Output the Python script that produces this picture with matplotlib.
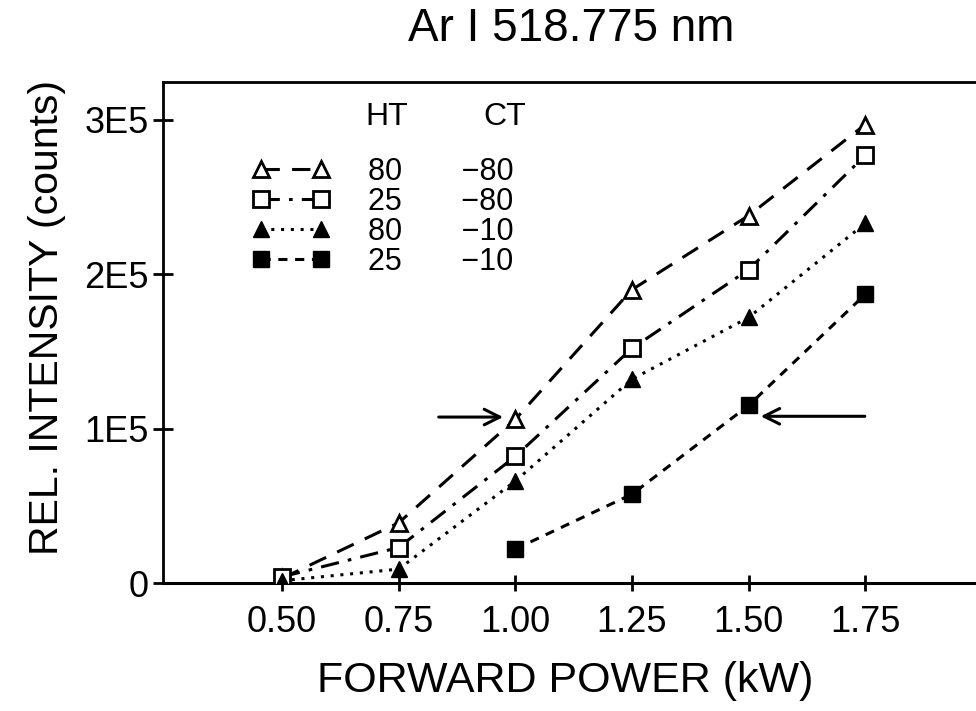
import matplotlib
matplotlib.use("Agg")
import matplotlib.pyplot as plt
from matplotlib.ticker import FixedLocator, FixedFormatter

plt.rcParams['font.family'] = ['Liberation Sans', 'DejaVu Sans']

# forward power (kW)
power = [0.50, 0.75, 1.00, 1.25, 1.50, 1.75]
power_low = [1.00, 1.25, 1.50, 1.75]

# relative intensity (counts)
ht80_ct80 = [3000, 39000, 106000, 190000, 238000, 297000]
ht25_ct80 = [4000, 23000, 82000, 152000, 203000, 277000]
ht80_ct10 = [1500, 9000, 66000, 132000, 172000, 233000]
ht25_ct10 = [22000, 57500, 115000, 187000]

ht_vals = ['80', '25', '80', '25']
ct_vals = ['\u221280', '\u221280', '\u221210', '\u221210']

y_ticks = [0, 100000, 200000, 300000]
y_labels = ['0', '1E5', '2E5', '3E5']
x_ticks = [0.50, 0.75, 1.00, 1.25, 1.50, 1.75]
x_labels = ['0.50', '0.75', '1.00', '1.25', '1.50', '1.75']

fig = plt.figure(figsize=(9.76, 7.11), dpi=100)
ax = fig.add_axes([0.167, 0.180, 0.84, 0.705])

lw = 2.2
ms = 12
l1, = ax.plot(power, ht80_ct80, color='k', lw=lw, dashes=(6, 4),
              marker='^', ms=ms, mfc='white', mec='k', mew=2)
l2, = ax.plot(power, ht25_ct80, color='k', lw=lw, dashes=(6, 3, 1.2, 3),
              marker='s', ms=ms, mfc='white', mec='k', mew=2)
l3, = ax.plot(power, ht80_ct10, color='k', lw=lw, dashes=(1, 2.2),
              marker='^', ms=ms, mfc='k', mec='k')
l4, = ax.plot(power_low, ht25_ct10, color='k', lw=lw, dashes=(3, 2.5),
              marker='s', ms=ms, mfc='k', mec='k')

# arrows pointing at the highlighted points
ax.annotate('', xy=(0.98, ht80_ct80[2] + 1500), xytext=(0.83, ht80_ct80[2] + 1500),
            arrowprops=dict(arrowstyle='->', lw=2.2, color='k', mutation_scale=28))
ax.annotate('', xy=(1.52, ht25_ct10[2] - 7000), xytext=(1.755, ht25_ct10[2] - 7000),
            arrowprops=dict(arrowstyle='->', lw=2.2, color='k', mutation_scale=28))

ax.set_xlim(0.245, 2.002)
ax.set_ylim(0, 3.247e5)

ax.spines['right'].set_visible(False)
ax.spines['bottom'].set_visible(False)
for s in ['left', 'top']:
    ax.spines[s].set_linewidth(2)
ax.axhline(0, color='k', lw=2.2, clip_on=False, zorder=1)

ax.yaxis.set_major_locator(FixedLocator(y_ticks))
ax.yaxis.set_major_formatter(FixedFormatter(y_labels))
ax.xaxis.set_major_locator(FixedLocator(x_ticks))
ax.xaxis.set_major_formatter(FixedFormatter(x_labels))
ax.tick_params(axis='y', direction='inout', length=14, width=2, labelsize=26, pad=3)
ax.tick_params(axis='x', direction='inout', length=11, width=2, labelsize=26, pad=10)

ax.set_xlabel('FORWARD POWER (kW)', fontsize=31)
ax.xaxis.set_label_coords(0.49, -0.155, transform=ax.transAxes)
ax.xaxis.label.set_va('top')
ax.set_ylabel('REL. INTENSITY (counts)', fontsize=29.5)
ax.yaxis.set_label_coords(-0.118, 0.53, transform=ax.transAxes)
ax.yaxis.label.set_va('bottom')
fig.suptitle('Ar I 518.775 nm', fontsize=33, x=0.585, y=0.99)

labels = [f'{h}       {c}' for h, c in zip(ht_vals, ct_vals)]
leg = ax.legend([l1, l2, l3, l4], labels, loc='upper left',
                bbox_to_anchor=(0.075, 0.905), frameon=False, numpoints=2,
                handlelength=2.55, handletextpad=1.25, labelspacing=0.0,
                fontsize=22)
ax.text(0.273, 0.93, 'HT', transform=ax.transAxes,
        fontsize=23, va='center', ha='center')
ax.text(0.417, 0.93, 'CT', transform=ax.transAxes,
        fontsize=23, va='center', ha='center')

fig.savefig('out.png', dpi=100)
